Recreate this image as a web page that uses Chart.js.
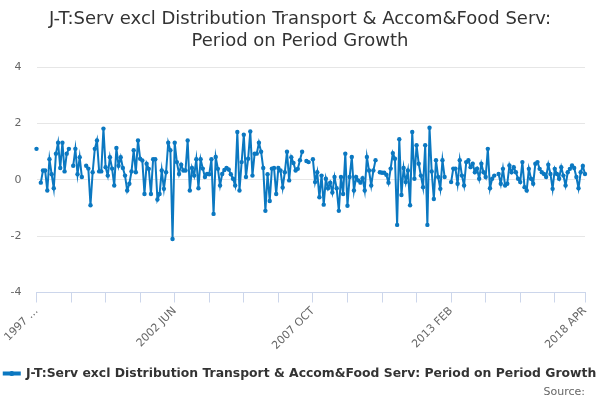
<!DOCTYPE html>
<html>
<head>
<meta charset="utf-8">
<script src="https://cdn.jsdelivr.net/npm/chart.js@4/dist/chart.umd.min.js"></script>
<style>
  body { margin: 0; background: #fff; }
  #wrap { width: 600px; height: 400px; }
</style>
</head>
<body>
<div id="wrap"><canvas id="chart"></canvas></div>
<script>
// monthly categories, 1997 FEB .. 2018 APR
const months = ["JAN", "FEB", "MAR", "APR", "MAY", "JUN", "JUL", "AUG", "SEP", "OCT", "NOV", "DEC"];
const startYear = 1997;
const startMonth = 1; // FEB
const pointCount = 255;

const categories = [];
for (let i = 0; i < pointCount; i++) {
  const m = startMonth + i;
  categories.push(startYear + Math.floor(m / 12) + " " + months[m % 12]);
}

// period on period growth, %
const growth = [
  1.1, null, -0.1, 0.33, 0.33, -0.38, 0.73, 0.2, -0.3, 0.93,
  1.32, 0.42, 1.32, 0.3, 0.93, 1.1, null, 0.5, 1.1, 0.2,
  0.8, 0.1, null, 0.5, 0.4, -0.9, 0.27, 1.1, 1.4, 0.3,
  0.3, 1.82, 0.45, 0.15, 0.8, 0.4, -0.2, 1.13, 0.5, 0.8,
  0.42, 0.15, -0.38, -0.14, 0.3, 1.05, 0.27, 1.4, 0.75, 0.69,
  -0.5, 0.57, 0.39, -0.5, 0.73, 0.73, -0.7, -0.5, 0.33, -0.32,
  0.27, 1.32, 1.05, -2.1, 1.32, 0.63, 0.21, 0.54, 0.33, 0.33,
  1.4, -0.38, 0.42, 0.15, 0.73, -0.3, 0.73, 0.4, 0.1, 0.21,
  0.2, 0.73, -1.21, 0.81, 0.39, -0.2, 0.21, 0.35, 0.42, 0.37,
  0.2, 0.04, -0.2, 1.7, -0.38, 0.63, 1.6, 0.1, 0.75, 1.72,
  0.15, 0.93, 0.93, 1.32, 1.0, 0.42, -1.1, 0.2, -0.75, 0.4,
  0.42, -0.5, 0.42, 0.33, -0.27, 0.27, 1.0, -0.02, 0.8, 0.6,
  0.33, 0.39, 0.7, 1.0, null, 0.67, 0.63, null, 0.73, -0.08,
  0.27, -0.62, 0.15, -0.88, 0.04, -0.3, -0.1, -0.45, 0.1, -0.3,
  -1.1, 0.1, -0.5, 0.93, -0.92, 0.1, 0.81, -0.38, 0.1, -0.02,
  -0.1, 0.06, -0.38, 0.81, 0.33, -0.2, 0.33, 0.7, null, 0.27,
  0.25, 0.25, 0.18, -0.1, 0.4, 0.95, 0.75, -1.6, 1.44, -0.54,
  0.42, -0.08, 0.33, -0.9, 1.7, 0.04, 1.23, 0.57, 0.15, -0.26,
  1.23, -1.6, 1.85, 0.3, -0.68, 0.7, 0.1, -0.32, 0.7, 0.1,
  null, null, -0.08, 0.4, 0.4, -0.14, 0.7, 0.15, -0.2, 0.63,
  0.7, 0.45, 0.57, 0.27, 0.4, 0.04, 0.57, 0.27, 0.1, 1.1,
  -0.3, 0.04, 0.15, null, 0.21, -0.14, 0.39, -0.2, -0.14, 0.51,
  0.27, 0.45, 0.27, 0.04, -0.08, 0.63, -0.26, -0.38, 0.39, 0.04,
  -0.14, 0.57, 0.63, 0.39, 0.27, 0.21, 0.1, 0.54, 0.21, -0.32,
  0.39, 0.21, 0.04, 0.45, 0.15, -0.2, 0.27, 0.39, 0.51, 0.42,
  0.1, -0.3, 0.27, 0.49, 0.21,
];

// x axis: a tick mark every 16 months, a label every 64 plus the last one
const tickEvery = 16;
const labelEvery = 64;
const firstLabel = "1997 …";

const yTicks = [-4, -2, 0, 2, 4];

const seriesName = "J-T:Serv excl Distribution Transport & Accom&Food Serv: Period on Period Growth";
const titleLines = ["J-T:Serv excl Distribution Transport & Accom&Food Serv:", "Period on Period Growth"];

const blue = "#0b78c1";
const last = categories.length - 1;

// dot in the middle of the legend line, like the original marker
const legendDot = {
  id: "legendDot",
  afterDraw(chart) {
    const box = chart.legend.legendHitBoxes[0];
    if (!box) return;
    const c = chart.ctx;
    const fs = chart.legend.options.labels.font.size;
    c.save();
    c.fillStyle = blue;
    c.beginPath();
    c.arc(box.left + 8, box.top + fs / 2, 2.5, 0, Math.PI * 2);
    c.fill();
    c.restore();
  },
};

const ctx = document.getElementById("chart").getContext("2d");
new Chart(ctx, {
  type: "line",
  data: {
    labels: categories,
    datasets: [
      {
        label: seriesName,
        data: growth,
        borderColor: blue,
        backgroundColor: blue,
        borderWidth: 2,
        pointRadius: 2.2,
        pointHoverRadius: 3,
        pointBorderWidth: 0,
        pointBackgroundColor: blue,
        spanGaps: false,
        tension: 0,
      },
    ],
  },
  options: {
    responsive: true,
    maintainAspectRatio: false,
    animation: false,
    layout: { padding: { left: 0, right: 0, top: 4, bottom: 1 } },
    plugins: {
      title: {
        display: true,
        text: titleLines,
        color: "#333333",
        font: { size: 18, weight: "normal", family: "'DejaVu Sans', sans-serif" },
        padding: { top: 5, bottom: 15 },
      },
      subtitle: {
        display: true,
        fullSize: false,
        text: "Source:",
        position: "bottom",
        align: "end",
        color: "#666666",
        font: { size: 11, family: "'DejaVu Sans', sans-serif" },
        padding: { top: -4, bottom: 0 },
      },
      legend: {
        position: "bottom",
        align: "center",
        labels: {
          color: "#333333",
          font: { size: 12.4, weight: "bold", family: "'DejaVu Sans', sans-serif" },
          boxWidth: 16,
          boxHeight: 2,
          padding: 0,
        },
      },
      tooltip: { enabled: false },
    },
    scales: {
      x: {
        offset: false,
        afterFit: (axis) => {
          axis.paddingLeft = 36.5;
          axis.paddingRight = 15;
          axis.height += 13;
        },
        grid: {
          drawOnChartArea: false,
          tickLength: 10,
          color: (c) => (c.index % tickEvery === 0 || c.index === last ? "#ccd6eb" : "rgba(0,0,0,0)"),
        },
        border: { display: true, color: "#ccd6eb" },
        ticks: {
          autoSkip: false,
          minRotation: 45,
          maxRotation: 45,
          color: "#666666",
          font: { size: 11, family: "'DejaVu Sans', sans-serif" },
          padding: 2,
          callback: function (value, index) {
            if (index === 0) return firstLabel;
            if (index % labelEvery === 0 || index === last) return categories[index];
            return "";
          },
        },
      },
      y: {
        min: -4,
        max: 4,
        afterFit: (axis) => {
          axis.width = 36.5;
        },
        afterBuildTicks: (axis) => {
          axis.ticks = yTicks.map((v) => ({ value: v }));
        },
        grid: { color: "#e6e6e6", drawTicks: false },
        border: { display: false },
        ticks: {
          color: "#666666",
          font: { size: 11, family: "'DejaVu Sans', sans-serif" },
          padding: 15,
        },
      },
    },
  },
  plugins: [legendDot],
});
</script>
</body>
</html>
